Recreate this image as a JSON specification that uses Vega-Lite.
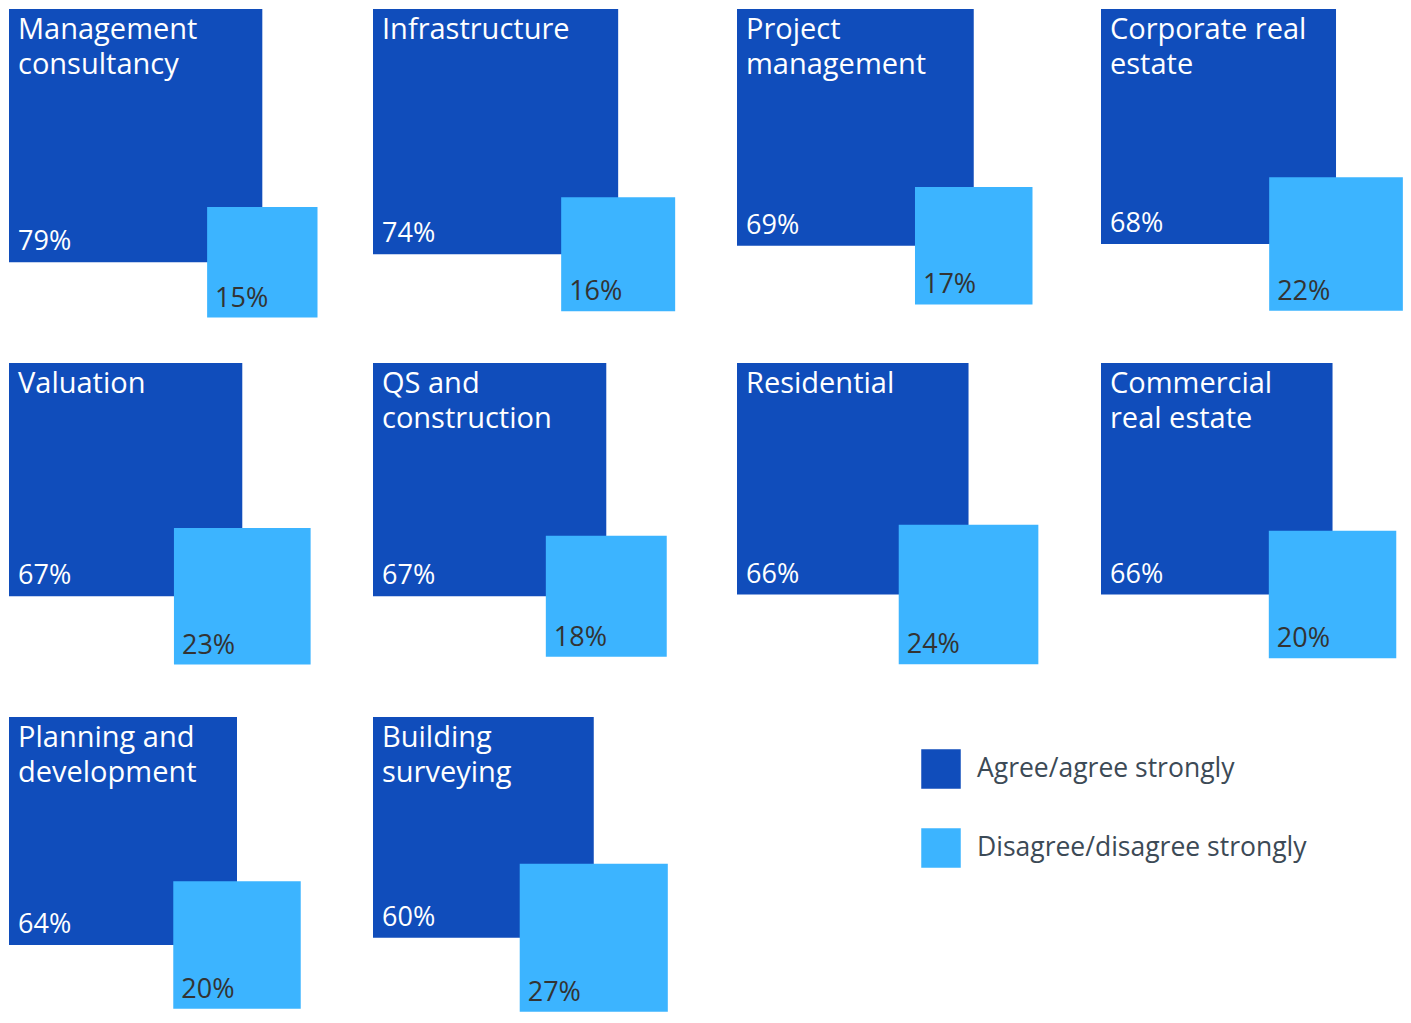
{
  "$schema": "https://vega.github.io/schema/vega-lite/v6.json",
  "padding": {"left": 9, "top": 9, "right": 0, "bottom": 0},
  "bounds": "flush",
  "background": "white",
  "config": {"view": {"stroke": null}, "header": {"labels": false, "labelExpr": "''", "labelFontSize": 0, "labelPadding": 0, "titlePadding": 0}},
  "data": {
    "values": [
      {"category": "Management consultancy", "label": "Management\nconsultancy", "agree": 0.79, "disagree": 0.15},
      {"category": "Infrastructure", "label": "Infrastructure", "agree": 0.74, "disagree": 0.16},
      {"category": "Project management", "label": "Project\nmanagement", "agree": 0.69, "disagree": 0.17},
      {"category": "Corporate real estate", "label": "Corporate real\nestate", "agree": 0.68, "disagree": 0.22},
      {"category": "Valuation", "label": "Valuation", "agree": 0.67, "disagree": 0.23},
      {"category": "QS and construction", "label": "QS and\nconstruction", "agree": 0.67, "disagree": 0.18},
      {"category": "Residential", "label": "Residential", "agree": 0.66, "disagree": 0.24},
      {"category": "Commercial real estate", "label": "Commercial\nreal estate", "agree": 0.66, "disagree": 0.20},
      {"category": "Planning and development", "label": "Planning and\ndevelopment", "agree": 0.64, "disagree": 0.20},
      {"category": "Building surveying", "label": "Building\nsurveying", "agree": 0.60, "disagree": 0.27}
    ]
  },
  "columns": 4,
  "spacing": {"column": 79, "row": 69},
  "facet": {
    "field": "category",
    "type": "nominal",
    "sort": ["Management consultancy", "Infrastructure", "Project management", "Corporate real estate", "Valuation", "QS and construction", "Residential", "Commercial real estate", "Planning and development", "Building surveying"],
    "header": {"labels": false, "title": null, "labelExpr": "''", "labelFontSize": 0, "labelPadding": 0}
  },
  "spec": {
    "width": 285,
    "height": 285,
    "layer": [
      {
        "mark": {"type": "rect"},
        "encoding": {
          "x": {"field": "agree", "type": "quantitative", "scale": {"type": "sqrt", "domain": [0, 1], "nice": false, "zero": true}, "axis": null},
          "x2": {"datum": 0},
          "y": {"field": "agree", "type": "quantitative", "scale": {"type": "sqrt", "domain": [0, 1], "nice": false, "zero": true, "reverse": true}, "axis": null},
          "y2": {"datum": 0},
          "color": {
            "datum": "Agree/agree strongly",
            "type": "nominal",
            "scale": {"domain": ["Agree/agree strongly", "Disagree/disagree strongly"], "range": ["#104dbb", "#3cb4ff"]},
            "legend": {
              "orient": "none", "legendX": 912, "legendY": 740, "title": null, "direction": "vertical",
              "symbolType": "square", "symbolSize": 1560, "symbolStrokeWidth": 0, "symbolOpacity": 1,
              "labelFontSize": 26.5, "labelFont": "Open Sans", "labelColor": "#3c4a56", "labelOffset": 16,
              "rowPadding": 39, "labelLimit": 600
            }
          }
        }
      },
      {
        "mark": {"type": "point", "shape": "square", "filled": true, "opacity": 1, "strokeWidth": 0},
        "encoding": {
          "x": {"field": "agree", "type": "quantitative"},
          "y": {"field": "agree", "type": "quantitative"},
          "size": {"field": "disagree", "type": "quantitative", "scale": {"type": "linear", "domain": [0, 1], "range": [0, 81225], "zero": true}, "legend": null},
          "color": {"datum": "Disagree/disagree strongly", "type": "nominal"}
        }
      },
      {
        "mark": {"type": "text", "align": "left", "baseline": "alphabetic", "dx": 9, "dy": 30, "fontSize": 29, "font": "Open Sans", "color": "white", "lineBreak": "\n", "lineHeight": 35},
        "encoding": {
          "x": {"datum": 0, "type": "quantitative"},
          "y": {"datum": 0, "type": "quantitative"},
          "text": {"field": "label", "type": "nominal"}
        }
      },
      {
        "mark": {"type": "text", "align": "left", "baseline": "alphabetic", "dx": 9, "dy": -12, "fontSize": 27, "font": "Open Sans", "color": "white"},
        "encoding": {
          "x": {"datum": 0, "type": "quantitative"},
          "y": {"field": "agree", "type": "quantitative"},
          "text": {"field": "agree", "type": "quantitative", "format": ".0%"}
        }
      },
      {
        "mark": {"type": "text", "align": "left", "baseline": "alphabetic", "dx": {"expr": "8 - 142.5 * sqrt(datum.disagree)"}, "dy": {"expr": "142.5 * sqrt(datum.disagree) - 11"}, "fontSize": 27, "font": "Open Sans", "color": "#333333"},
        "encoding": {
          "x": {"field": "agree", "type": "quantitative"},
          "y": {"field": "agree", "type": "quantitative"},
          "text": {"field": "disagree", "type": "quantitative", "format": ".0%"}
        }
      }
    ]
  }
}
